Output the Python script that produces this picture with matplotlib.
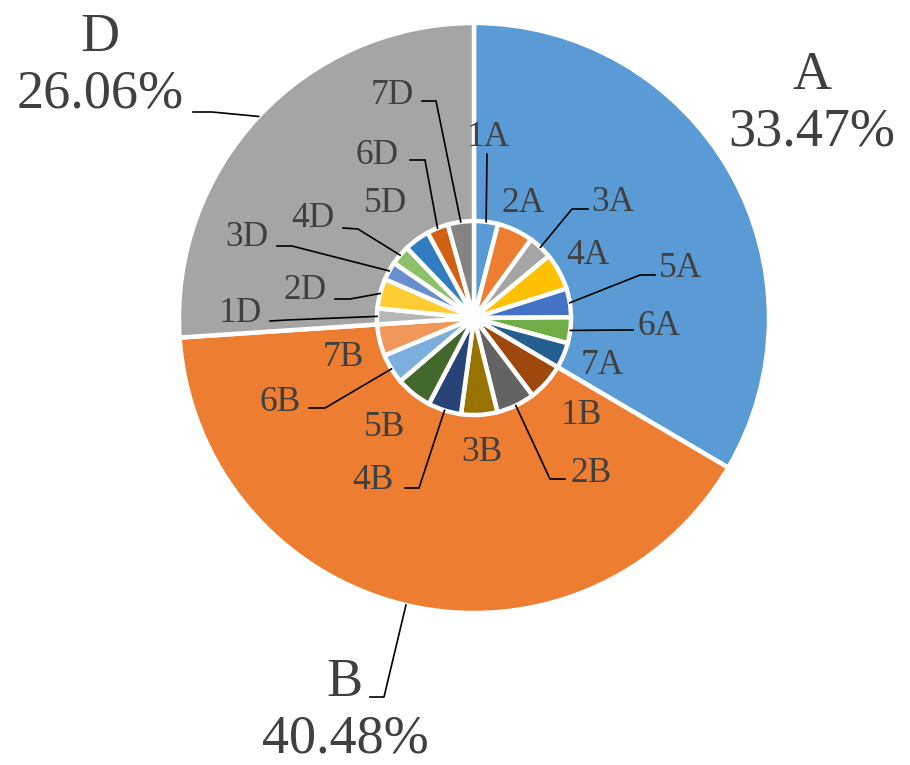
import numpy as np
import matplotlib
matplotlib.use("Agg")
import matplotlib.pyplot as plt

# Group shares (outer ring) and item shares (inner pie), in percent of the total
groups = ["A", "B", "D"]
group_values = [33.47, 40.48, 26.06]
group_colors = ["#5B9BD5", "#ED7D31", "#A5A5A5"]

items = ["1A", "2A", "3A", "4A", "5A", "6A", "7A",
         "1B", "2B", "3B", "4B", "5B", "6B", "7B",
         "1D", "2D", "3D", "4D", "5D", "6D", "7D"]
item_values = [4.00, 6.00, 4.00, 6.10, 4.80, 4.30, 4.27,
               6.23, 6.42, 6.03, 5.55, 6.03, 4.96, 5.26,
               2.65, 4.95, 3.05, 3.25, 4.25, 3.55, 4.36]
item_colors = ["#5B9BD5", "#ED7D31", "#A5A5A5", "#FFC000", "#4472C4", "#70AD47", "#255E91",
               "#9E480E", "#636363", "#997300", "#264478", "#43682B", "#7CAFDD", "#F1975A",
               "#B7B7B7", "#FFCD33", "#698ED0", "#8CC168", "#327DC2", "#D26012", "#848484"]

W, H = 910, 765
TEXT = "#404040"
FONT = "Liberation Serif"


def Y(y):
    # layout positions are given from the top edge of the canvas
    return H - y


cx, cy = 474, Y(318)
R_OUT, R_IN = 295, 97

fig = plt.figure(figsize=(W / 100, H / 100), dpi=100)
ax = fig.add_axes([0, 0, 1, 1])

outer, _ = ax.pie(group_values, radius=R_OUT, center=(cx, cy), startangle=90,
                  counterclock=False, colors=group_colors,
                  wedgeprops=dict(edgecolor="white", linewidth=3.2))
inner, _ = ax.pie(item_values, radius=R_IN, center=(cx, cy), startangle=90,
                  counterclock=False, colors=item_colors,
                  wedgeprops=dict(edgecolor="white", linewidth=3.2))

ax.set_xlim(0, W)
ax.set_ylim(0, H)
ax.set_aspect("equal")
ax.axis("off")


def rim_point(wedge, r):
    mid = np.deg2rad((wedge.theta1 + wedge.theta2) / 2)
    return cx + r * np.cos(mid), cy + r * np.sin(mid)


# label text centre, and optional leader (elbow, end) in top-down pixels
item_layout = {
    "1A": ((488, 137), ((487, 154), (487, 154))),
    "2A": ((523, 203), None),
    "3A": ((613, 202), ((572, 209), (588, 209))),
    "4A": ((588, 255), None),
    "5A": ((680, 268), ((640, 275), (655, 275))),
    "6A": ((659, 326), ((627, 330), (633, 330))),
    "7A": ((602, 365), None),
    "1B": ((582, 415), None),
    "2B": ((591, 473), ((550, 479), (565, 479))),
    "3B": ((482, 452), None),
    "4B": ((373, 480), ((419, 488), (405, 488))),
    "5B": ((385, 427), None),
    "6B": ((280, 402), ((325, 408), (309, 408))),
    "7B": ((343, 357), None),
    "1D": ((240, 313), ((287, 320), (270, 321))),
    "2D": ((305, 290), ((350, 299), (335, 299))),
    "3D": ((247, 237), ((292, 246), (277, 246))),
    "4D": ((313, 218), ((358, 229), (343, 228))),
    "5D": ((385, 203), None),
    "6D": ((377, 155), ((425, 160), (410, 160))),
    "7D": ((392, 95), ((436, 101), (422, 101))),
}

for wedge, name in zip(inner, items):
    (tx, ty), leader = item_layout[name]
    ax.text(tx, Y(ty), name, ha="center", va="center", fontsize=25.5,
            family=FONT, color=TEXT)
    if leader:
        px, py = rim_point(wedge, R_IN)
        (ex, ey), (fx, fy) = leader
        ax.plot([px, ex, fx], [py, Y(ey), Y(fy)], color="black", lw=1.2,
                solid_joinstyle="miter")

group_layout = {
    "A": ((812, 104), None),
    "B": ((345, 711), ((384, 697), (370, 697))),
    "D": ((100, 66), ((212, 112), (193, 112))),
}

for wedge, name, val in zip(outer, groups, group_values):
    (tx, ty), leader = group_layout[name]
    ax.text(tx, Y(ty), f"{name}\n{val:.2f}%", ha="center", va="center",
            fontsize=39, family=FONT, color=TEXT, linespacing=1.15)
    if leader:
        px, py = rim_point(wedge, R_OUT)
        (ex, ey), (fx, fy) = leader
        ax.plot([px, ex, fx], [py, Y(ey), Y(fy)], color="black", lw=1.2)

fig.savefig("out.png", dpi=100, facecolor="white")
